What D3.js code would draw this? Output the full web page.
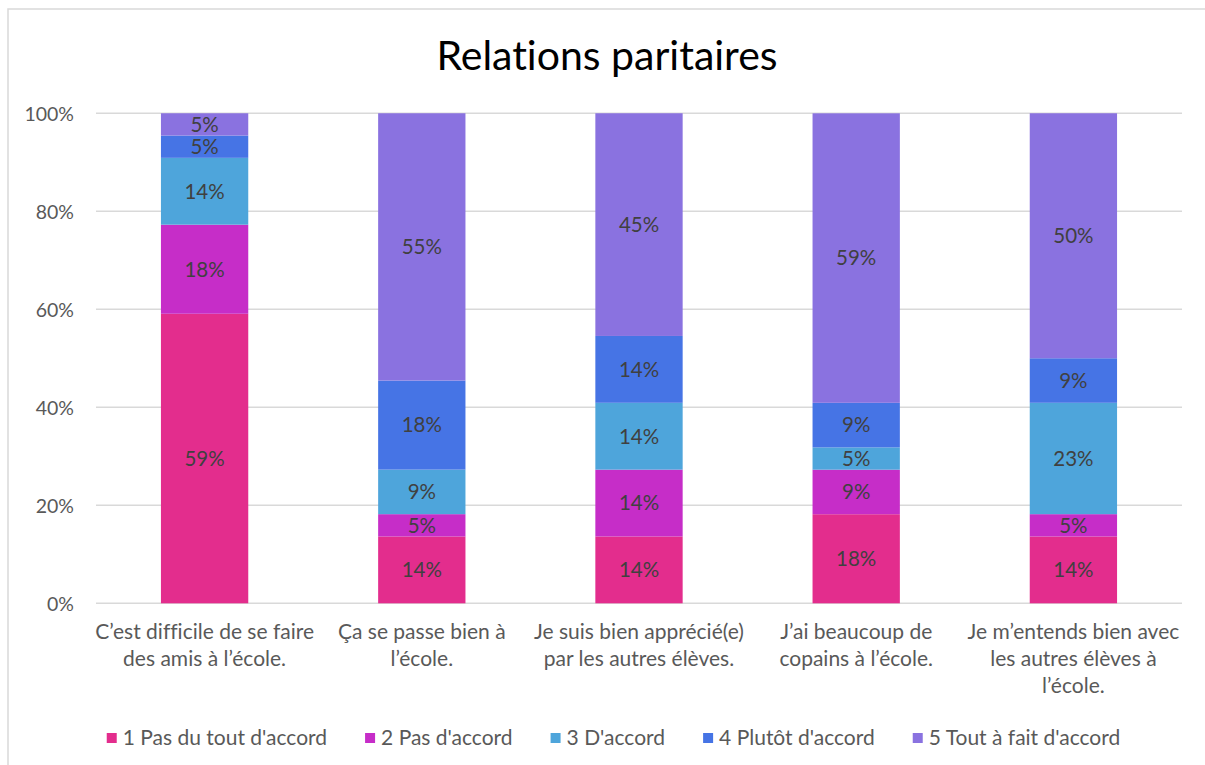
<!DOCTYPE html>
<html>
<head>
<meta charset="utf-8">
<script src="https://cdn.jsdelivr.net/npm/d3@7/dist/d3.min.js"></script>
<style>
  html, body { margin: 0; padding: 0; background: #fff; overflow: hidden; }
  svg { display: block; }
  text { font-family: Lato, "Open Sans", sans-serif; font-variant-ligatures: none; font-feature-settings: "liga" 0; }
</style>
</head>
<body>
<svg id="chart" width="1205" height="765"></svg>
<script>
// ---- data ----
const title = "Relations paritaires";
const categories = [
  "C\u2019est difficile de se faire\ndes amis à l\u2019école.",
  "Ça se passe bien à\nl\u2019école.",
  "Je suis bien apprécié(e)\npar les autres élèves.",
  "J\u2019ai beaucoup de\ncopains à l\u2019école.",
  "Je m\u2019entends bien avec\nles autres élèves à\nl\u2019école."
];
const seriesNames = ["1 Pas du tout d'accord", "2 Pas d'accord", "3 D'accord", "4 Plutôt d'accord", "5 Tout à fait d'accord"];
const s1 = [59.09, 13.64, 13.64, 18.18, 13.64];
const s2 = [18.18, 4.55, 13.64, 9.09, 4.55];
const s3 = [13.64, 9.09, 13.64, 4.55, 22.73];
const s4 = [4.55, 18.18, 13.64, 9.09, 9.09];
const s5 = [4.55, 54.55, 45.45, 59.09, 50.00];
const seriesValues = [s1, s2, s3, s4, s5];
const yTicks = [0, 20, 40, 60, 80, 100];
const colors = ["#E32D8D", "#C62DC8", "#4EA5DB", "#4674E5", "#8A72E0"];

(function () {
// ---- layout ----
const svg = d3.select("#chart");
const pLeft = 96, pRight = 1182, pTop = 113.3, pBottom = 603.3;

// chart frame (top and left edges visible)
svg.append("path").attr("d", "M8,765 L8,9 L1205,9")
  .attr("fill", "none").attr("stroke", "#D9D9D9").attr("stroke-width", 1.5);

svg.append("text").attr("x", 607).attr("y", 70).attr("text-anchor", "middle")
  .attr("font-size", 41).attr("fill", "#000").text(title);

const x = d3.scaleBand().domain(d3.range(categories.length)).range([pLeft, pRight]).paddingInner(0.598).paddingOuter(0.299);
const y = d3.scaleLinear().domain([0, 100]).range([pBottom, pTop]);

// gridlines
svg.append("g").selectAll("line").data(yTicks).join("line")
  .attr("x1", pLeft).attr("x2", pRight)
  .attr("y1", d => y(d)).attr("y2", d => y(d))
  .attr("stroke", "#D9D9D9").attr("stroke-width", 1.5);

// y axis labels
const yAxis = d3.axisLeft(y).tickValues(yTicks).tickFormat(d => d + "%").tickSize(0).tickPadding(0);
const gy = svg.append("g").attr("transform", `translate(74,0)`).call(yAxis);
gy.select(".domain").remove();
gy.selectAll("text").attr("font-size", 19.5).attr("fill", "#595959").attr("font-family", "Lato, sans-serif").attr("dy", "0.35em");

// stacked data
const table = categories.map((c, i) => {
  const o = { idx: i };
  seriesNames.forEach((s, j) => o[s] = seriesValues[j][i]);
  return o;
});
const stack = d3.stack().keys(seriesNames)(table);

const layers = svg.append("g").selectAll("g").data(stack).join("g")
  .attr("fill", (d, i) => colors[i]);
layers.selectAll("rect").data(d => d).join("rect")
  .attr("x", d => x(d.data.idx))
  .attr("width", x.bandwidth())
  .attr("y", d => y(d[1]))
  .attr("height", d => y(d[0]) - y(d[1]));

// data labels
const lbl = svg.append("g");
stack.forEach((layer, j) => {
  layer.forEach(d => {
    lbl.append("text")
      .attr("x", x(d.data.idx) + x.bandwidth() / 2)
      .attr("y", (y(d[0]) + y(d[1])) / 2)
      .attr("dy", "0.36em")
      .attr("text-anchor", "middle")
      .attr("font-size", 20.5).attr("fill", "#404040")
      .text(Math.round(d[1] - d[0]) + "%");
  });
});

// category labels
const xl = svg.append("g");
categories.forEach((c, i) => {
  const t = xl.append("text").attr("text-anchor", "middle").attr("font-size", 21).attr("fill", "#595959");
  c.split("\n").forEach((line, k) => {
    t.append("tspan").attr("x", x(i) + x.bandwidth() / 2).attr("y", 639 + k * 27).text(line);
  });
});

// legend
const leg = svg.append("g");
let cx = 0;
seriesNames.forEach((s, i) => {
  const g = leg.append("g");
  g.append("rect").attr("x", 0).attr("y", -5).attr("width", 10).attr("height", 10).attr("fill", colors[i]);
  const t = g.append("text").attr("x", 16).attr("y", 0).attr("dy", "0.35em").attr("font-size", 21).attr("fill", "#595959").text(s);
  const w = 16 + t.node().getComputedTextLength();
  g.attr("transform", `translate(${cx},738)`);
  cx += w + 38;
});
const totalW = cx - 38;
leg.attr("transform", `translate(${(107 + 1120) / 2 - totalW / 2},0)`);
})();
</script>
</body>
</html>
